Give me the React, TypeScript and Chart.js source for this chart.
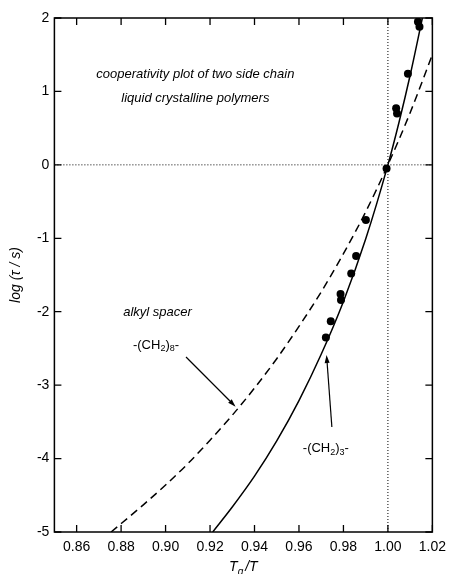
import React, { useEffect, useRef } from "react";
import { Chart, registerables } from "chart.js";

Chart.register(...registerables);

// ---- data ----
const xTickValues = [0.86, 0.88, 0.9, 0.92, 0.94, 0.96, 0.98, 1.0, 1.02];
const yTickValues = [-5, -4, -3, -2, -1, 0, 1, 2];

// -(CH2)3- : solid curve
const solidX = [0.9212, 0.93, 0.94, 0.95, 0.96, 0.97, 0.98, 0.99, 1.0, 1.005, 1.01, 1.0155];
const solidY = [-5.0, -4.66, -4.24, -3.76, -3.21, -2.58, -1.86, -1.01, 0.0, 0.58, 1.22, 2.0];

// -(CH2)8- : dashed curve
const dashedX = [0.8755, 0.89, 0.9, 0.91, 0.92, 0.93, 0.94, 0.95, 0.96, 0.97, 0.98, 0.99, 1.0, 1.01, 1.02];
const dashedY = [-5.0, -4.63, -4.36, -4.07, -3.75, -3.41, -3.04, -2.64, -2.2, -1.73, -1.21, -0.64, 0.0, 0.71, 1.5];

// measured points
const pointsX = [1.0135, 1.0142, 1.009, 1.0037, 1.0041, 0.9994, 0.9901, 0.9857, 0.9835, 0.9787, 0.9789, 0.9743, 0.9721];
const pointsY = [1.95, 1.88, 1.24, 0.77, 0.7, -0.05, -0.75, -1.24, -1.48, -1.76, -1.84, -2.13, -2.35];

// reference lines
const refVX = [1.0, 1.0];
const refVY = [-5, 2];
const refHX = [0.85, 1.02];
const refHY = [0, 0];

const X_MIN = 0.85;
const X_MAX = 1.02;
const Y_MIN = -5;
const Y_MAX = 2;

const FONT = "'Liberation Sans', Arial, Helvetica, sans-serif";

type Seg = { t: string; sub?: boolean };

const titleLines = [
  { text: "cooperativity plot of two side chain", x: 0.9134, y: 1.237 },
  { text: "liquid crystalline polymers", x: 0.9134, y: 0.906 },
  { text: "alkyl spacer", x: 0.8964, y: -2.013 },
];

const label8: Seg[] = [{ t: "-(CH" }, { t: "2", sub: true }, { t: ")" }, { t: "8", sub: true }, { t: "-" }];
const label3: Seg[] = [{ t: "-(CH" }, { t: "2", sub: true }, { t: ")" }, { t: "3", sub: true }, { t: "-" }];
const label8Pos = { x: 0.8957, y: -2.453 };
const label3Pos = { x: 0.9721, y: -3.86 };

const arrows = [
  { x0: 0.9092, y0: -2.617, x1: 0.9315, y1: -3.293 },
  { x0: 0.9748, y0: -3.57, x1: 0.9724, y1: -2.589 },
];

const zip = (xs: number[], ys: number[]) => xs.map((x, i) => ({ x, y: ys[i] }));

function drawSegs(ctx: CanvasRenderingContext2D, segs: Seg[], cx: number, cy: number, size: number) {
  const main = `${size}px ${FONT}`;
  const sub = `${Math.round(size * 0.7)}px ${FONT}`;
  let total = 0;
  for (const s of segs) {
    ctx.font = s.sub ? sub : main;
    total += ctx.measureText(s.t).width;
  }
  let x = cx - total / 2;
  ctx.textAlign = "left";
  ctx.textBaseline = "middle";
  for (const s of segs) {
    ctx.font = s.sub ? sub : main;
    ctx.fillText(s.t, x, s.sub ? cy + size * 0.3 : cy);
    x += ctx.measureText(s.t).width;
  }
}

const decorPlugin = {
  id: "decor",
  afterDatasetsDraw(chart: any) {
    const ctx: CanvasRenderingContext2D = chart.ctx;
    const xs = chart.scales.x;
    const ys = chart.scales.y;
    const a = chart.chartArea;
    ctx.save();
    ctx.strokeStyle = "#000";
    ctx.fillStyle = "#000";
    // frame
    ctx.lineWidth = 1.5;
    ctx.strokeRect(a.left, a.top, a.right - a.left, a.bottom - a.top);
    // inward ticks on all four sides
    const tl = 7;
    ctx.lineWidth = 1.3;
    ctx.beginPath();
    for (const v of xTickValues) {
      const px = xs.getPixelForValue(v);
      ctx.moveTo(px, a.bottom);
      ctx.lineTo(px, a.bottom - tl);
      ctx.moveTo(px, a.top);
      ctx.lineTo(px, a.top + tl);
    }
    for (const v of yTickValues) {
      const py = ys.getPixelForValue(v);
      ctx.moveTo(a.left, py);
      ctx.lineTo(a.left + tl, py);
      ctx.moveTo(a.right, py);
      ctx.lineTo(a.right - tl, py);
    }
    ctx.stroke();

    // annotations (italic)
    ctx.font = `italic 13px ${FONT}`;
    ctx.textAlign = "center";
    ctx.textBaseline = "middle";
    for (const l of titleLines) {
      ctx.fillText(l.text, xs.getPixelForValue(l.x), ys.getPixelForValue(l.y));
    }
    drawSegs(ctx, label8, xs.getPixelForValue(label8Pos.x), ys.getPixelForValue(label8Pos.y), 13);
    drawSegs(ctx, label3, xs.getPixelForValue(label3Pos.x), ys.getPixelForValue(label3Pos.y), 13);

    // arrows
    ctx.lineWidth = 1.2;
    for (const ar of arrows) {
      const x0 = xs.getPixelForValue(ar.x0);
      const y0 = ys.getPixelForValue(ar.y0);
      const x1 = xs.getPixelForValue(ar.x1);
      const y1 = ys.getPixelForValue(ar.y1);
      const ang = Math.atan2(y1 - y0, x1 - x0);
      const hl = 8;
      const hw = 2.5;
      const bx = x1 - hl * Math.cos(ang);
      const by = y1 - hl * Math.sin(ang);
      ctx.beginPath();
      ctx.moveTo(x0, y0);
      ctx.lineTo(bx, by);
      ctx.stroke();
      ctx.beginPath();
      ctx.moveTo(x1, y1);
      ctx.lineTo(bx + hw * Math.sin(ang), by - hw * Math.cos(ang));
      ctx.lineTo(bx - hw * Math.sin(ang), by + hw * Math.cos(ang));
      ctx.closePath();
      ctx.fill();
    }

    // y axis title
    ctx.save();
    ctx.translate(16, (a.top + a.bottom) / 2);
    ctx.rotate(-Math.PI / 2);
    ctx.font = `italic 14px ${FONT}`;
    ctx.textAlign = "center";
    ctx.textBaseline = "middle";
    ctx.fillText("log (τ / s)", 0, 0);
    ctx.restore();

    // x axis title  T_g / T
    const segs: Seg[] = [{ t: "T" }, { t: "g", sub: true }, { t: "/T" }];
    const main = `italic 14px ${FONT}`;
    const sub = `italic 10px ${FONT}`;
    let total = 0;
    for (const s of segs) {
      ctx.font = s.sub ? sub : main;
      total += ctx.measureText(s.t).width + (s.t === "/T" ? 2 : 0);
    }
    let x = (a.left + a.right) / 2 - total / 2;
    const base = 571;
    ctx.textAlign = "left";
    ctx.textBaseline = "alphabetic";
    for (const s of segs) {
      ctx.font = s.sub ? sub : main;
      if (s.t === "/T") x += 2;
      ctx.fillText(s.t, x, s.sub ? base + 4 : base);
      x += ctx.measureText(s.t).width;
    }
    ctx.restore();
  },
};

export default function App() {
  const ref = useRef<HTMLCanvasElement | null>(null);
  useEffect(() => {
    if (!ref.current) return;
    const chart = new Chart(ref.current, {
      type: "scatter",
      data: {
        datasets: [
          {
            data: zip(refVX, refVY),
            showLine: true,
            borderColor: "#000",
            borderWidth: 1,
            borderDash: [1, 2],
            pointRadius: 0,
          },
          {
            data: zip(refHX, refHY),
            showLine: true,
            borderColor: "#000",
            borderWidth: 1,
            borderDash: [1, 2],
            pointRadius: 0,
          },
          {
            data: zip(dashedX, dashedY),
            showLine: true,
            borderColor: "#000",
            borderWidth: 1.5,
            borderDash: [8, 5],
            pointRadius: 0,
            cubicInterpolationMode: "monotone",
          },
          {
            data: zip(solidX, solidY),
            showLine: true,
            borderColor: "#000",
            borderWidth: 1.5,
            pointRadius: 0,
            cubicInterpolationMode: "monotone",
          },
          {
            data: zip(pointsX, pointsY),
            showLine: false,
            backgroundColor: "#000",
            borderColor: "#000",
            pointRadius: 4,
            pointBorderWidth: 0,
          },
        ] as any,
      },
      options: {
        animation: false,
        responsive: false,
        maintainAspectRatio: false,
        layout: { padding: { left: 0, right: 15, top: 18, bottom: 0 } },
        plugins: { legend: { display: false }, tooltip: { enabled: false } },
        scales: {
          x: {
            type: "linear",
            min: X_MIN,
            max: X_MAX,
            grid: { display: false, drawTicks: false },
            border: { display: false },
            afterBuildTicks: (s: any) => {
              s.ticks = xTickValues.map((v) => ({ value: v }));
            },
            afterFit: (s: any) => {
              s.height = 42;
            },
            ticks: {
              color: "#000",
              padding: 7,
              maxRotation: 0,
              autoSkip: false,
              font: { family: FONT, size: 14 },
              callback: (v: any) => Number(v).toFixed(2),
            },
          },
          y: {
            type: "linear",
            min: Y_MIN,
            max: Y_MAX,
            grid: { display: false, drawTicks: false },
            border: { display: false },
            afterBuildTicks: (s: any) => {
              s.ticks = yTickValues.map((v) => ({ value: v }));
            },
            afterFit: (s: any) => {
              s.width = 54.4;
            },
            ticks: {
              color: "#000",
              padding: 5,
              autoSkip: false,
              font: { family: FONT, size: 14 },
              callback: (v: any) => String(v),
            },
          },
        },
      } as any,
      plugins: [decorPlugin],
    });
    return () => chart.destroy();
  }, []);
  return (
    <div style={{ position: "fixed", left: 0, top: 0, width: 453, height: 574, background: "#fff" }}>
      <canvas ref={ref} width={453} height={574} style={{ width: 453, height: 574, display: "block" }} />
    </div>
  );
}
